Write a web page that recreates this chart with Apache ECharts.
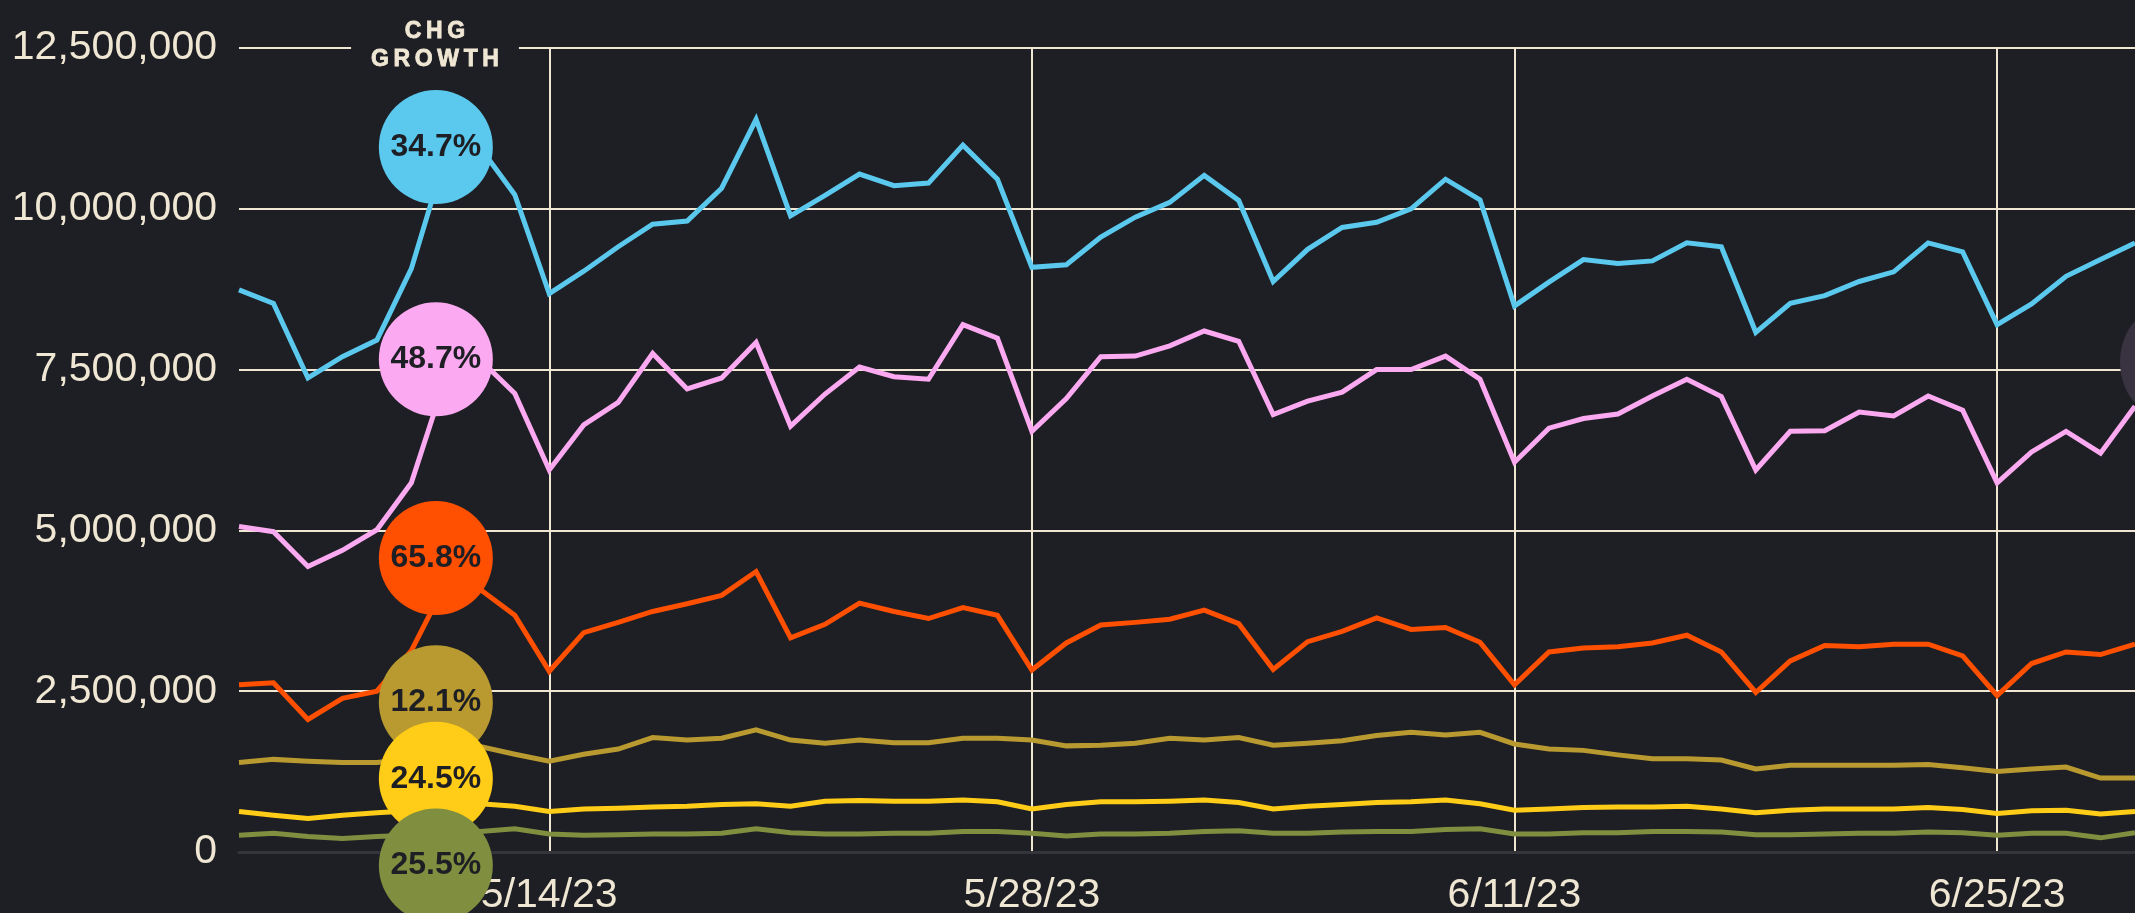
<!DOCTYPE html>
<html>
<head>
    <meta charset="utf-8">
    <title>CHG Growth</title>
    <script src="https://cdn.jsdelivr.net/npm/echarts@6/dist/echarts.min.js"></script>
    <style>
        html, body { margin: 0; padding: 0; background: #1e1f24; }
    </style>
</head>
<body>
<div id="main" style="width: 2135px;height:913px;background-color: #1e1f24"></div>
<script type="text/javascript">

    // daily dates, 5/5/23 .. 6/29/23
    var days = ['5/5/23','5/6/23','5/7/23','5/8/23','5/9/23','5/10/23','5/11/23','5/12/23','5/13/23','5/14/23',
        '5/15/23','5/16/23','5/17/23','5/18/23','5/19/23','5/20/23','5/21/23','5/22/23','5/23/23','5/24/23',
        '5/25/23','5/26/23','5/27/23','5/28/23','5/29/23','5/30/23','5/31/23','6/1/23','6/2/23','6/3/23',
        '6/4/23','6/5/23','6/6/23','6/7/23','6/8/23','6/9/23','6/10/23','6/11/23','6/12/23','6/13/23',
        '6/14/23','6/15/23','6/16/23','6/17/23','6/18/23','6/19/23','6/20/23','6/21/23','6/22/23','6/23/23',
        '6/24/23','6/25/23','6/26/23','6/27/23','6/28/23','6/29/23'];

    var blueVals = [8740000, 8530000, 7370000, 7700000, 7960000, 9070000, 10850000, 10950000, 10220000, 8680000,
        9030000, 9410000, 9760000, 9810000, 10320000, 11390000, 9890000, 10210000, 10540000, 10360000,
        10400000, 10990000, 10460000, 9090000, 9130000, 9560000, 9870000, 10100000, 10520000, 10130000,
        8870000, 9370000, 9710000, 9790000, 10000000, 10460000, 10140000, 8490000, 8860000, 9210000,
        9150000, 9190000, 9470000, 9410000, 8080000, 8530000, 8650000, 8870000, 9020000, 9470000,
        9330000, 8200000, 8520000, 8950000, 9210000, 9470000];

    var pinkVals = [5060000, 4980000, 4440000, 4690000, 5010000, 5740000, 7390000, 7650000, 7130000, 5940000,
        6640000, 6990000, 7750000, 7200000, 7370000, 7920000, 6620000, 7120000, 7540000, 7390000,
        7350000, 8200000, 7990000, 6540000, 7050000, 7700000, 7710000, 7870000, 8100000, 7940000,
        6800000, 7010000, 7150000, 7500000, 7500000, 7710000, 7350000, 6060000, 6590000, 6740000,
        6810000, 7090000, 7350000, 7080000, 5940000, 6540000, 6550000, 6840000, 6780000, 7090000,
        6870000, 5740000, 6220000, 6540000, 6200000, 6930000];

    var orangeVals = [2600000, 2630000, 2060000, 2390000, 2500000, 3130000, 4180000, 4080000, 3680000, 2810000,
        3410000, 3570000, 3740000, 3860000, 3990000, 4360000, 3330000, 3540000, 3870000, 3740000,
        3630000, 3800000, 3680000, 2830000, 3250000, 3530000, 3570000, 3620000, 3760000, 3550000,
        2840000, 3270000, 3430000, 3640000, 3460000, 3490000, 3260000, 2600000, 3110000, 3170000,
        3190000, 3250000, 3370000, 3110000, 2480000, 2970000, 3210000, 3190000, 3230000, 3230000,
        3050000, 2430000, 2930000, 3110000, 3070000, 3230000];

    var goldVals = [1390000, 1440000, 1410000, 1390000, 1390000, 1450000, 1580000, 1640000, 1520000, 1410000,
        1520000, 1600000, 1780000, 1740000, 1770000, 1900000, 1740000, 1690000, 1740000, 1700000,
        1700000, 1770000, 1770000, 1740000, 1650000, 1660000, 1690000, 1770000, 1740000, 1780000,
        1660000, 1690000, 1730000, 1810000, 1860000, 1820000, 1860000, 1680000, 1600000, 1580000,
        1510000, 1450000, 1450000, 1430000, 1290000, 1350000, 1350000, 1350000, 1350000, 1360000,
        1310000, 1250000, 1290000, 1320000, 1150000, 1150000];

    var yellowVals = [630000, 570000, 520000, 570000, 610000, 640000, 700000, 750000, 710000, 630000,
        670000, 680000, 700000, 710000, 740000, 750000, 710000, 790000, 800000, 790000,
        790000, 810000, 780000, 670000, 740000, 780000, 780000, 790000, 810000, 770000,
        670000, 710000, 740000, 770000, 780000, 810000, 750000, 650000, 670000, 690000,
        700000, 700000, 710000, 670000, 610000, 650000, 670000, 670000, 670000, 690000,
        660000, 600000, 640000, 650000, 590000, 630000];

    var greenVals = [260000, 290000, 240000, 210000, 240000, 260000, 290000, 320000, 360000, 280000,
        260000, 270000, 280000, 280000, 290000, 360000, 300000, 280000, 280000, 290000,
        290000, 320000, 320000, 290000, 250000, 280000, 280000, 290000, 320000, 330000,
        290000, 290000, 310000, 320000, 320000, 350000, 360000, 280000, 280000, 300000,
        300000, 320000, 320000, 310000, 270000, 270000, 280000, 290000, 290000, 310000,
        300000, 260000, 290000, 290000, 220000, 300000];

    var growth = ['34.7%', '48.7%', '65.8%', '12.1%', '24.5%', '25.5%'];

    var yTicks = [0, 2500000, 5000000, 7500000, 10000000, 12500000];

    var bg = '#1e1f24';
    var cream = '#efe7d3';
    var colors = ['#5bc8ee', '#fba9f0', '#ff4f00', '#b89a30', '#ffcc17', '#7f8f3f'];
    var allVals = [blueVals, pinkVals, orangeVals, goldVals, yellowVals, greenVals];

    // where the growth bubbles sit (value units), pushed apart so they don't pile up
    var bubbleY = [10960000, 7660000, 4570000, 2330000, 1140000, -210000];

    var myChart = echarts.init(document.getElementById('main'));

    var series = allVals.map(function (vals, i) {
        return {
            name: 'series' + (i + 1),
            type: 'line',
            data: vals,
            showSymbol: false,
            symbol: 'none',
            animation: false,
            lineStyle: { color: colors[i], width: 5, join: 'miter' },
            z: 3
        };
    });

    // growth bubbles
    series.push({
        type: 'scatter',
        clip: false,
        animation: false,
        symbol: 'circle',
        symbolSize: 114,
        symbolOffset: [-10, 0],
        z: 10,
        data: growth.map(function (g, i) {
            return {
                value: [6, bubbleY[i]],
                itemStyle: { color: colors[i], opacity: 1 },
                label: {
                    show: true,
                    position: 'inside',
                    formatter: g,
                    color: bg,
                    fontFamily: 'Liberation Sans',
                    fontWeight: 'bold',
                    fontSize: 32
                }
            };
        })
    });

    var showIdx = function (index) { return (index - 9) % 14 === 0; };

    myChart.setOption({
        backgroundColor: bg,
        animation: false,
        grid: { left: 239, right: 0, top: 48, bottom: 61, containLabel: false, outerBoundsMode: 'none' },
        xAxis: {
            type: 'category',
            data: days,
            boundaryGap: false,
            axisLine: { show: true, lineStyle: { color: '#34353a', width: 3 } },
            axisTick: { show: false },
            axisLabel: {
                interval: showIdx,
                color: cream,
                fontFamily: 'Liberation Sans',
                fontSize: 41,
                margin: 23
            },
            splitLine: {
                show: true,
                interval: showIdx,
                lineStyle: { color: cream, width: 2 }
            }
        },
        yAxis: {
            type: 'value',
            min: yTicks[0],
            max: yTicks[yTicks.length - 1],
            interval: yTicks[1] - yTicks[0],
            axisLine: { show: false },
            axisTick: { show: false },
            axisLabel: {
                color: cream,
                fontFamily: 'Liberation Sans',
                fontSize: 41,
                margin: 22,
                formatter: function (v) { return v.toLocaleString('en-US'); }
            },
            splitLine: {
                lineStyle: { color: ['#34353a', cream, cream, cream, cream, cream], width: 2 }
            }
        },
        graphic: [{
            type: 'text',
            z: 100,
            x: 435,
            y: 16,
            style: {
                text: 'C\u2009H\u2009G\nG\u2009R\u2009O\u2009W\u2009T\u2009H',
                align: 'center',
                verticalAlign: 'top',
                font: 'bold 23px "Liberation Sans"',
                fill: cream,
                stroke: cream,
                lineWidth: 0.8,
                lineHeight: 28,
                backgroundColor: bg,
                padding: [2, 20, 2, 20]
            }
        }, {
            // dark blob cut off at the right edge
            type: 'ellipse',
            z: 100,
            shape: { cx: 2165, cy: 362, rx: 45, ry: 55 },
            style: { fill: '#393241' }
        }],
        series: series
    });

</script>
</body>
</html>
